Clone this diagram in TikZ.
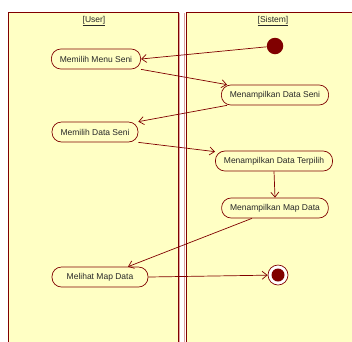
\documentclass[tikz,border=0pt]{standalone}
\usepackage{fontspec}
\setmainfont{Liberation Sans}
\usepackage{tikz}
\usetikzlibrary{positioning,arrows.meta,calc}
\usepackage{xcolor}
\definecolor{umlred}{RGB}{128,0,0}
\definecolor{umlfill}{RGB}{255,255,196}
\definecolor{umlshadow}{RGB}{222,160,160}
\definecolor{umltext}{RGB}{40,40,40}

\begin{document}
\begin{tikzpicture}[x=1pt, y=1pt,
    lane/.style={draw=umlred, line width=0.9pt, fill=umlfill},
    act/.style={rectangle, draw=umlred, rounded corners=9.5pt, line width=0.7pt, fill=umlfill, minimum height=20pt, inner xsep=8.5pt, text=umltext, font=\fontsize{8.5}{10}\selectfont},
    lanelabel/.style={text=umltext, font=\fontsize{8.5}{10}\selectfont},
    flow/.style={-{Straight Barb[length=5pt, width=8pt]}, draw=umlred, line width=0.7pt}
]
\useasboundingbox (0,0) rectangle (352,-341);
\clip (0,0) rectangle (352,-341);

% swimlanes
\draw[lane] (8,-12) rectangle (178,-350);
\draw[lane] (186,-12) rectangle (365,-350);
\draw[umlshadow, line width=1pt] (179.8,-13) -- (179.8,-350);
\draw[umlshadow, line width=1pt] (184.6,-13) -- (184.6,-350);

\node[lanelabel] (user) at (94,-21) {\underline{[User]}};
\node[lanelabel] (sistem) at (273,-21) {\underline{[Sistem]}};

% activities
\node[circle, fill=umlred, minimum size=16.5pt, inner sep=0pt] (start) at (275,-46) {};
\node[act] (menu) at (96,-59) {Memilih Menu Seni};
\node[act] (seni) at (275,-95) {Menampilkan Data Seni};
\node[act] (pilih) at (95,-132) {Memilih Data Seni};
\node[act] (terpilih) at (274,-161) {Menampilkan Data Terpilih};
\node[act] (map) at (275,-208) {Menampilkan Map Data};
\node[act, minimum width=96pt] (lihat) at (100,-277) {Melihat Map Data};
\node[circle, draw=umlred, fill=white, line width=0.7pt, minimum size=20pt, inner sep=0pt] (stop) at (278,-275) {};
\node[circle, fill=umlred, minimum size=13pt, inner sep=0pt] (stopdot) at (stop) {};

% flows
\draw[flow] (start) -- (menu.east);
\draw[flow] (menu.south east) -- ($(seni.north west)+(6,0)$);
\draw[flow] ($(seni.south west)+(6,0)$) -- (pilih.north east);
\draw[flow] (pilih.south east) -- ($(terpilih.north west)+(0,-1)$);
\draw[flow] (terpilih.south) -- (map.north);
\draw[flow] ($(map.south)+(-23,0)$) -- ($(lihat.north)+(28,0)$);
\draw[flow] (lihat.east) -- (stop);
\end{tikzpicture}
\end{document}
